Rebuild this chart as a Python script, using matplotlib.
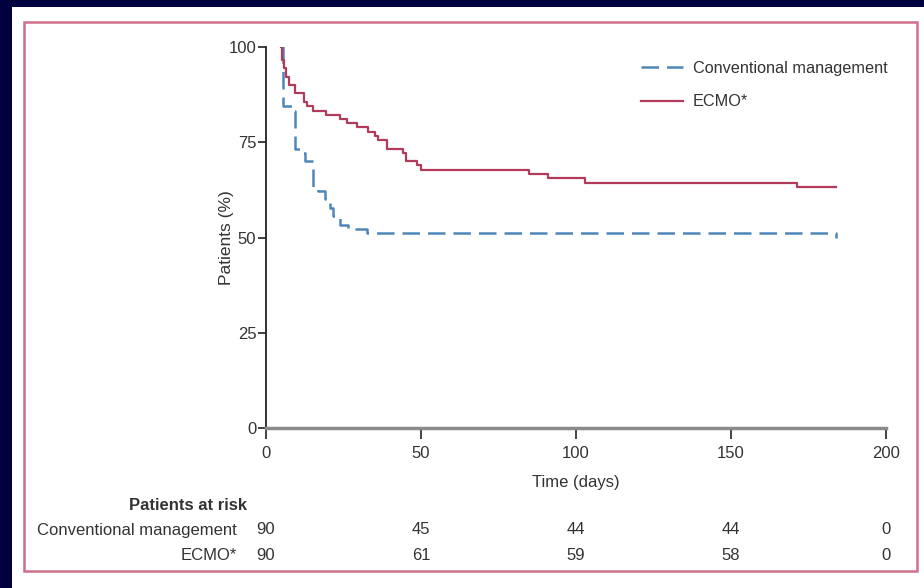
import matplotlib
matplotlib.use("Agg")
import matplotlib.pyplot as plt
from matplotlib.patches import Rectangle

# ---- data ----
ecmo_days = [4.7, 5.3, 5.7, 6.5, 7.5, 9.5, 12.3, 13.2, 15.0, 19.5, 24.0, 26.0, 29.5,
             33.0, 35.0, 36.0, 38.9, 44.3, 45.2, 48.6, 49.9, 84.8, 90.9, 102.9, 171.2, 184.0]
ecmo_surv = [100.0, 96.7, 94.4, 92.2, 90.0, 87.8, 85.6, 84.4, 83.3, 82.2, 81.1, 80.0, 78.9,
             77.8, 76.7, 75.6, 73.3, 72.2, 70.0, 68.9, 67.8, 66.7, 65.6, 64.4, 63.3, 63.3]
conv_days = [5.0, 5.4, 5.6, 8.8, 9.4, 11.5, 12.6, 15.3, 16.8, 19.0, 20.6, 21.6, 23.9,
             26.5, 32.5, 183.8, 184.0]
conv_surv = [100.0, 95.0, 84.4, 83.3, 73.3, 72.2, 70.0, 63.3, 62.2, 60.0, 57.8, 55.6, 53.3,
             52.2, 51.1, 51.1, 50.0]

x_ticks = [0, 50, 100, 150, 200]
y_ticks = [0, 25, 50, 75, 100]
risk_labels = ["Conventional management", "ECMO*"]
risk_conv = [90, 45, 44, 44, 0]
risk_ecmo = [90, 61, 59, 58, 0]

FONT = ["Liberation Sans", "DejaVu Sans"]
plt.rcParams['font.family'] = FONT

W, H = 924, 588
fig = plt.figure(figsize=(W / 100, H / 100), dpi=100)
fig.patch.set_facecolor("#02013f")

def fx(px):
    return px / W

def fy(py):
    return 1 - py / H

# white panel and pink frame (drawn beneath the axes)
fig.patches.append(Rectangle((fx(12), 0), 1 - fx(12), fy(7), transform=fig.transFigure,
                             facecolor="white", edgecolor="none", zorder=-5))
fig.patches.append(Rectangle((fx(24), fy(571)), fx(917) - fx(24), fy(22) - fy(571),
                             transform=fig.transFigure, facecolor="none",
                             edgecolor="#cf6f8a", linewidth=1.8, zorder=-4))

ax = fig.add_axes([fx(266), fy(428), fx(886) - fx(266), fy(47) - fy(428)])
ax.set_facecolor("none")
ax.set_zorder(2)
ax.set_xlim(0, 200)
ax.set_ylim(0, 100)

blue = "#4f86b8"
red = "#b23a5a"
ax.step(conv_days, conv_surv, where="post", color=blue, lw=1.8,
        linestyle=(0, (7, 3.2)), label="Conventional management", zorder=3)
ax.step(ecmo_days, ecmo_surv, where="post", color=red, lw=1.6,
        label="ECMO*", zorder=4)

for s in ["top", "right"]:
    ax.spines[s].set_visible(False)
ax.spines["left"].set_color("#222222")
ax.spines["left"].set_linewidth(1.3)
ax.spines["bottom"].set_color("#8a8a8a")
ax.spines["bottom"].set_linewidth(2.5)
ax.set_xticks(x_ticks)
ax.set_yticks(y_ticks)
ax.tick_params(axis="x", direction="out", length=8, width=1.3, color="#333333",
               labelsize=12, labelcolor="#333333", pad=5)
ax.tick_params(axis="y", direction="out", length=6, width=1.3, color="#333333",
               labelsize=12, labelcolor="#333333", pad=1)
ax.set_xlabel("Time (days)", fontsize=12, color="#333333", labelpad=10)
ax.set_ylabel("Patients (%)", fontsize=12.5, color="#333333", labelpad=-4)

leg = ax.legend(loc="upper right", bbox_to_anchor=(fx(902), fy(46)),
                bbox_transform=fig.transFigure, frameon=False, fontsize=11.7,
                handlelength=2.6, handletextpad=0.6, labelspacing=1.15)
for t in leg.get_texts():
    t.set_color("#333333")

# risk table
tc = "#333333"
fig.text(fx(247), fy(506), "Patients at risk", ha="right", va="center",
         fontsize=12, fontweight="bold", color=tc)
row_y = [530, 555]
for lab, vals, ry in zip(risk_labels, [risk_conv, risk_ecmo], row_y):
    fig.text(fx(237), fy(ry), lab, ha="right", va="center", fontsize=12, color=tc)
    for xv, v in zip(x_ticks, vals):
        xd = ax.transData.transform((xv, 0))[0]
        fig.text(xd / W, fy(ry), str(v), ha="center", va="center", fontsize=12, color=tc)

fig.savefig("out.png", dpi=100, facecolor=fig.get_facecolor())
